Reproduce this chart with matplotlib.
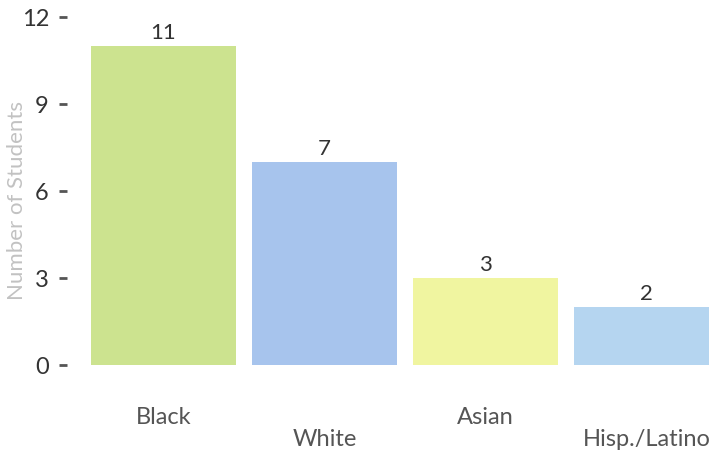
import matplotlib
matplotlib.use("Agg")
import matplotlib.pyplot as plt
import matplotlib.transforms as mtransforms

categories = ["Black", "White", "Asian", "Hisp./Latino"]
values = [11, 7, 3, 2]
colors = ["#cce38f", "#a7c4ed", "#f0f5a0", "#b5d5f0"]
yticks = [0, 3, 6, 9, 12]

plt.rcParams['font.family'] = ['Lato', 'DejaVu Sans']

W, H = 709, 454
fig = plt.figure(figsize=(W / 100, H / 100), dpi=100)
left_px, right_px, top_px, bot_px = 67, 709, 17, 365
ax = fig.add_axes([left_px / W, 1 - bot_px / H, (right_px - left_px) / W, (bot_px - top_px) / H])

x = list(range(len(categories)))
bars = ax.bar(x, values, width=0.9, color=colors)
ax.bar_label(bars, labels=[str(v) for v in values], padding=2, fontsize=16, color="#333333")

ax.set_ylim(0, 12)
ax.set_xlim((left_px - 163.5) / 161, (right_px - 163.5) / 161)
ax.set_yticks(yticks)
ax.set_yticklabels([str(t) for t in yticks], fontsize=17, color="#333333")
ax.tick_params(axis="y", length=6, width=2.0, color="#555555", pad=7)
ax.set_xticks([])
for s in ax.spines.values():
    s.set_visible(False)

trans = mtransforms.blended_transform_factory(ax.transData, ax.transAxes)
for i, c in enumerate(categories):
    ypx = 418 if i % 2 == 0 else 439
    yax = (bot_px - ypx) / (bot_px - top_px)
    ax.text(i, yax, c, transform=trans, ha="center", va="center", fontsize=17, color="#555555", clip_on=False)

lab = ax.set_ylabel("Number of Students", fontsize=16, color="#c2c2c2")
lab.set_va("center")
lab.set_ha("center")
ax.yaxis.set_label_coords(-(left_px - 17) / (right_px - left_px), (bot_px - 200) / (bot_px - top_px))

fig.savefig("out.png", dpi=100)
